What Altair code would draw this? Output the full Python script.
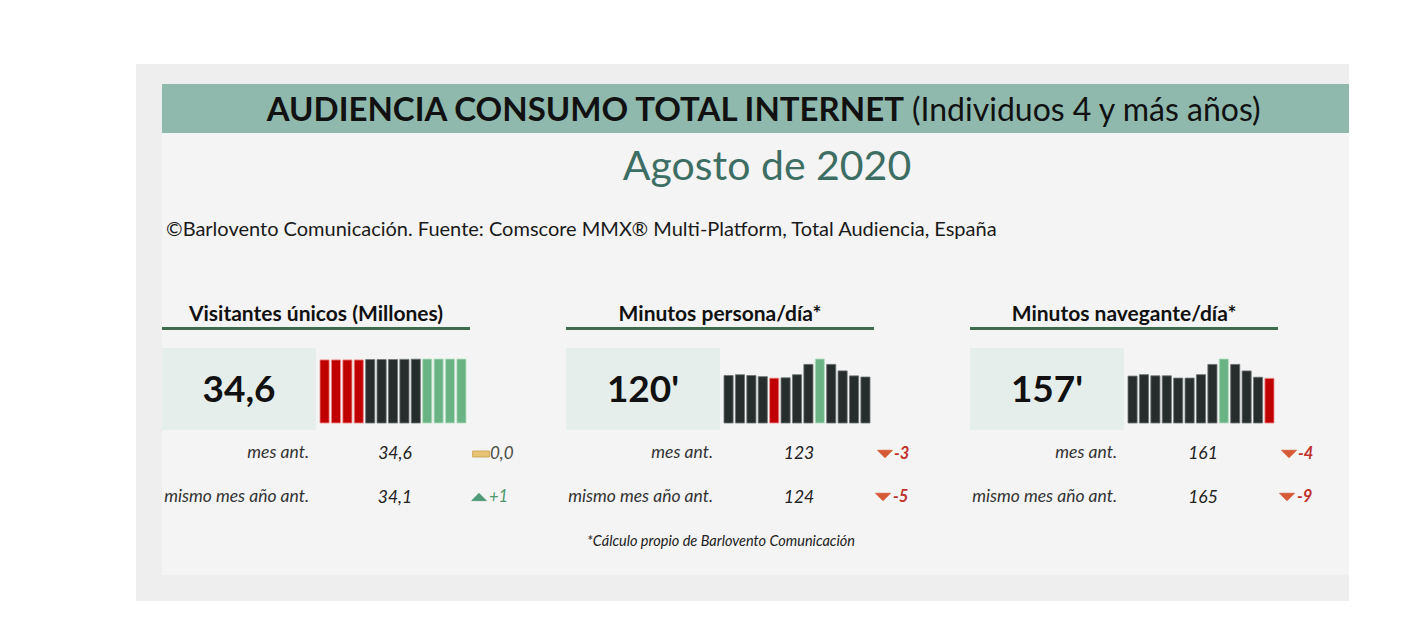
import altair as alt
import pandas as pd

# ---------------- data ----------------
months = ["ago-19", "sep-19", "oct-19", "nov-19", "dic-19", "ene-20", "feb-20",
          "mar-20", "abr-20", "may-20", "jun-20", "jul-20", "ago-20"]
visitantes = [34.1, 34.1, 34.1, 34.1, 34.3, 34.3, 34.3, 34.4, 34.5, 34.6, 34.6, 34.6, 34.6]
min_persona = [124, 126, 124, 121, 117, 118, 126, 153, 167, 153, 136, 123, 120]
min_navegante = [165, 170, 166, 166, 158, 158, 170, 206, 225, 206, 183, 161, 157]

titulos = ["Visitantes únicos (Millones)", "Minutos persona/día*", "Minutos navegante/día*"]
actual = ["34,6", "120'", "157'"]
mes_ant = ["34,6", "123", "161"]
mismo_mes = ["34,1", "124", "165"]
var_mes = ["0,0", "-3", "-4"]
var_anio = ["+1", "-5", "-9"]
dir_mes = ["eq", "down", "down"]
dir_anio = ["up", "down", "down"]

titulo = "AUDIENCIA CONSUMO TOTAL INTERNET"
subtitulo = "(Individuos 4 y más años)"
periodo = "Agosto de 2020"
fuente = "©Barlovento Comunicación. Fuente: Comscore MMX® Multi-Platform, Total Audiencia, España"
nota = "*Cálculo propio de Barlovento Comunicación"

# ---------------- layout / style ----------------
OX, OY = 8, 8
W, H = 1408, 613
FONT = "Lato"
RED, DARK, GREEN = "#c00000", "#272d2d", "#6ab384"
RED_E, DARK_E, GREEN_E = "#f08a8a", "#6d7373", "#b5e0c3"

ONE = pd.DataFrame({"k": [0]})


def px(x):
    return x - OX


def py(y):
    return y - OY


def rect(x0, x1, y0, y1, color):
    return alt.Chart(ONE).mark_rect(color=color).encode(
        x=alt.value(px(x0)), x2=alt.value(px(x1)),
        y=alt.value(py(y0)), y2=alt.value(py(y1)))


def txt(s, x, y, size, weight="normal", style="normal", color="#222222", align="center"):
    return alt.Chart(ONE).mark_text(
        text=s, fontSize=size, fontWeight=weight, fontStyle=style, color=color,
        align=align, baseline="alphabetic", font=FONT).encode(
        x=alt.value(px(x)), y=alt.value(py(y)))


SHAPES = {
    "down": ("M-1,-0.5L1,-0.5L0,0.5Z", "#d65a36", 225),
    "up": ("M-1,0.5L1,0.5L0,-0.5Z", "#4f9a78", 215),
    "eq": ("M-1,-0.36L1,-0.36L1,0.36L-1,0.36Z", "#e6c375", 280),
}
VAR_COL = {"down": "#c0302c", "up": "#4f9a6a", "eq": "#4a4a40"}


def symbol(kind, x, y):
    path, col, size = SHAPES[kind]
    stroke = "#c9a04a" if kind == "eq" else col
    return alt.Chart(ONE).mark_point(shape=path, size=size, filled=True, opacity=1,
                                     color=col, stroke=stroke, strokeWidth=0.8).encode(
        x=alt.value(px(x)), y=alt.value(py(y)))


def bars(values, x0, x1):
    vmax, vmin = max(values), min(values)
    estado = ["max" if v == vmax else ("min" if v == vmin else "mid") for v in values]
    df = pd.DataFrame({"mes": months, "v": values, "estado": estado})
    return alt.Chart(df).mark_bar(strokeWidth=0.8).encode(
        x=alt.X("mes:N", sort=months, axis=None,
                scale=alt.Scale(range=[px(x0), px(x1)], paddingInner=0.2, paddingOuter=0)),
        y=alt.Y("v:Q", axis=None,
                scale=alt.Scale(domain=[0, vmax], range=[py(423), py(359)], nice=False)),
        color=alt.Color("estado:N", legend=None,
                        scale=alt.Scale(domain=["min", "mid", "max"], range=[RED, DARK, GREEN])),
        stroke=alt.Stroke("estado:N", legend=None,
                          scale=alt.Scale(domain=["min", "mid", "max"], range=[RED_E, DARK_E, GREEN_E])),
    )


layers = [
    rect(136, 1349, 64, 601, "#eeeeee"),
    rect(162, 1349, 84, 575, "#f4f4f4"),
    rect(162, 1349, 84, 133, "#8fb9ad"),
    txt(titulo, 904, 121, 33, weight="bold", color="#111111", align="right"),
    txt(subtitulo, 912, 121, 32, color="#111111", align="left"),
    txt(periodo, 767, 180, 41, color="#3d6e64"),
    txt(fuente, 166, 236, 20, color="#1a1a1a", align="left"),
    txt(nota, 721, 546, 14.5, style="italic", color="#222222"),
]

series = [visitantes, min_persona, min_navegante]
offsets = [0, 404, 808]
for i in range(3):
    o = offsets[i]
    layers += [
        txt(titulos[i], 316 + o, 321, 21, weight="bold", color="#111111"),
        rect(162 + o, 470 + o, 327, 330, "#3e6b4e"),
        rect(162 + o, 316 + o, 348, 430, "#e6eeeb"),
        txt(actual[i], 239 + o, 402, 37, weight="bold", color="#111111"),
        bars(series[i], 320 + o, 466 + o),
        txt("mes ant.", 309 + o, 458, 17.5, style="italic", color="#333333", align="right"),
        txt("mismo mes año ant.", 309 + o, 502, 17.5, style="italic", color="#333333", align="right"),
        txt(mes_ant[i], 395 + o, 459, 17.5, style="italic", color="#222222"),
        txt(mismo_mes[i], 395 + o, 503, 17.5, style="italic", color="#222222"),
        symbol(dir_mes[i], 481 + o, 454),
        symbol(dir_anio[i], 479 + o, 497),
        txt(var_mes[i], 490 + o, 459, 17 if dir_mes[i] == "eq" else 16.5,
            weight="bold" if dir_mes[i] == "down" else "normal",
            style="italic", color=VAR_COL[dir_mes[i]], align="left"),
        txt(var_anio[i], 489 + o, 502, 16.5, weight="bold" if dir_anio[i] == "down" else "normal",
            style="italic", color=VAR_COL[dir_anio[i]], align="left"),
    ]

chart = alt.layer(*layers).resolve_scale(
    x="independent", y="independent", color="independent", stroke="independent"
).properties(
    width=W, height=H, padding=0, background="white",
    autosize=alt.AutoSizeParams(type="none"),
).configure_view(strokeWidth=0)

chart.save("out.html", embed_options={"renderer": "svg", "actions": False})
